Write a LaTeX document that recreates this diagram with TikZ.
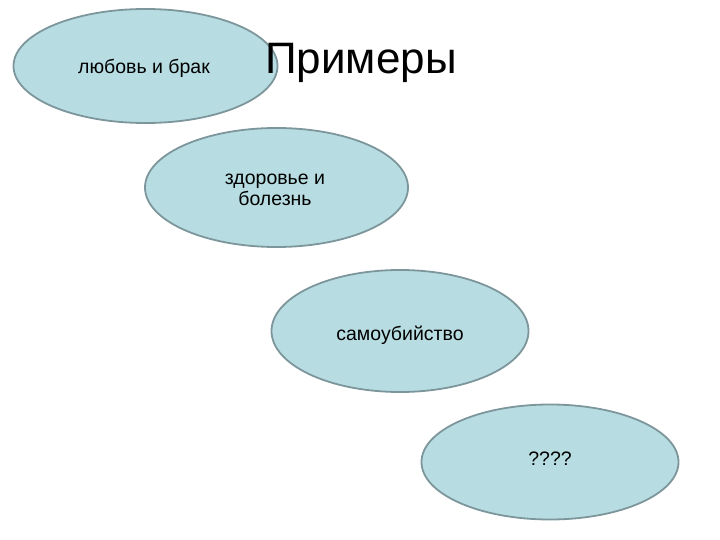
\documentclass[tikz,border=0pt]{standalone}
\usepackage{fontspec}
\setmainfont{Liberation Sans}
\usetikzlibrary{shapes.geometric}
\definecolor{ovalfill}{RGB}{183,221,226}
\definecolor{ovaldraw}{RGB}{125,150,155}
\tikzset{
  oval/.style={ellipse, draw=ovaldraw, fill=ovalfill, line width=1.8pt, inner sep=0pt},
  ovaltext/.style={font=\fontsize{19.5}{21}\selectfont, align=center, text=black, inner sep=0pt},
  titletext/.style={font=\fontsize{44}{50}\selectfont, anchor=base, inner sep=0pt}
}
\begin{document}
\begin{tikzpicture}[x=1pt,y=-1pt]
\useasboundingbox (0,0) rectangle (720,540);
\node[oval, minimum width=264pt, minimum height=114pt] (love) at (145.5,66) {};
\node[ovaltext] (lovetext) at (144,68) {любовь и брак};
\node[titletext] (title) at (361,74) {Примеры};
\node[oval, minimum width=263pt, minimum height=119pt] (health) at (276.5,187.5) {};
\node[ovaltext] (healthtext) at (275,190) {здоровье и\\болезнь};
\node[oval, minimum width=257pt, minimum height=122pt] (suicide) at (400,331) {};
\node[ovaltext] (suicidetext) at (400,335) {самоубийство};
\node[oval, minimum width=257pt, minimum height=115pt] (unknown) at (550,462) {};
\node[ovaltext] (unknowntext) at (550,459) {????};
\end{tikzpicture}
\end{document}
